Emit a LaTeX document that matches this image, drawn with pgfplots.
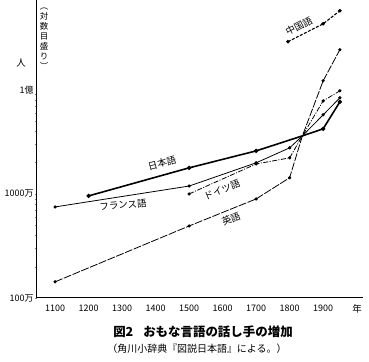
\documentclass[border=0pt]{standalone}
\usepackage{fontspec}
\setmainfont{Noto Sans CJK JP}
\usepackage{pgfplots}
\pgfplotsset{compat=1.18}
\begin{document}
\begin{tikzpicture}[x=1bp,y=1bp]
\begin{axis}[
  at={(36bp,64bp)}, anchor=south west,
  scale only axis, width=327bp, height=298bp,
  xmin=1043, xmax=2019, ymode=log, ymin=1e6, ymax=7.3e8,
  axis x line=bottom, axis y line=left,
  axis line style={-, line width=1pt, black},
  xtick={1100,1200,1300,1400,1500,1600,1700,1800,1900},
  ytick={1e6,1e7,1e8}, yticklabels={100万,1000万,1億},
  major tick length=0pt, minor tick num=0,
  /pgf/number format/assume math mode=true,
  xticklabel style={/pgf/number format/1000 sep={}, yshift=-3bp},
  yticklabel style={xshift=1bp},
  tick label style={font=\fontsize{9}{10}\selectfont},
  clip=false,
  mark size=1.2pt,
]
% Japanese
\addplot[black, line width=1.6pt, mark=*, mark indices={1,2,3,5,6}, mark options={solid}] coordinates {
 (1200,9.57e6) (1500,1.78e7) (1700,2.59e7) (1838,3.61e7) (1900,4.22e7) (1950,7.67e7)};
% French
\addplot[black, line width=0.8pt, mark=*, mark indices={1,2,3,4,6,7}, mark options={solid}] coordinates {
 (1100,7.5e6) (1500,1.19e7) (1700,1.99e7) (1800,2.77e7) (1838,3.61e7) (1900,5.75e7) (1950,8.38e7)};
% German
\addplot[black, line width=0.8pt, dash pattern=on 5pt off 1.5pt on 1pt off 1.5pt, mark=*, mark indices={1,2,3,5,6}, mark options={solid}] coordinates {
 (1500,1.0e7) (1700,1.94e7) (1800,2.22e7) (1838,3.61e7) (1900,7.83e7) (1950,9.78e7)};
% English
\addplot[black, line width=0.8pt, dash pattern=on 8pt off 1.5pt, mark=*, mark indices={1,2,3,4,6,7}, mark options={solid}] coordinates {
 (1100,1.43e6) (1500,4.92e6) (1700,8.95e6) (1800,1.43e7) (1838,3.61e7) (1900,1.22e8) (1950,2.43e8)};
% Chinese
\addplot[black, line width=1.1pt, dash pattern=on 3pt off 1.5pt, mark=*, mark options={solid}] coordinates {
 (1795,2.9e8) (1900,4.31e8) (1950,5.75e8)};
\end{axis}
\tikzset{lab/.style={font=\fontsize{9.5}{10}\selectfont, inner sep=0pt}}
\node[lab, rotate=15] at (162,199) {日本語};
\node[lab, rotate=5] at (123,157) {フランス語};
\node[lab, rotate=22] at (222,172) {ドイツ語};
\node[lab, rotate=22] at (231,143) {英語};
\node[lab, rotate=27] at (299,336) {中国語};
\node[lab] at (21,299) {人};
\node[lab] at (357,53) {年};
\node[lab, anchor=north, align=center, font=\fontsize{8.5}{10}\selectfont] at (44,354) {︵\\対\\数\\目\\盛\\り\\︶};
\node[inner sep=0pt, font=\fontsize{12.5}{13}\selectfont\bfseries] at (203,30) {図2\hspace{0.8em}おもな言語の話し手の増加};
\node[inner sep=0pt, font=\fontsize{10}{11}\selectfont] at (197,13) {（角川小辞典『図説日本語』による。）};
\pgfresetboundingbox
\path (0,0) rectangle (369,362);
\end{tikzpicture}
\end{document}
